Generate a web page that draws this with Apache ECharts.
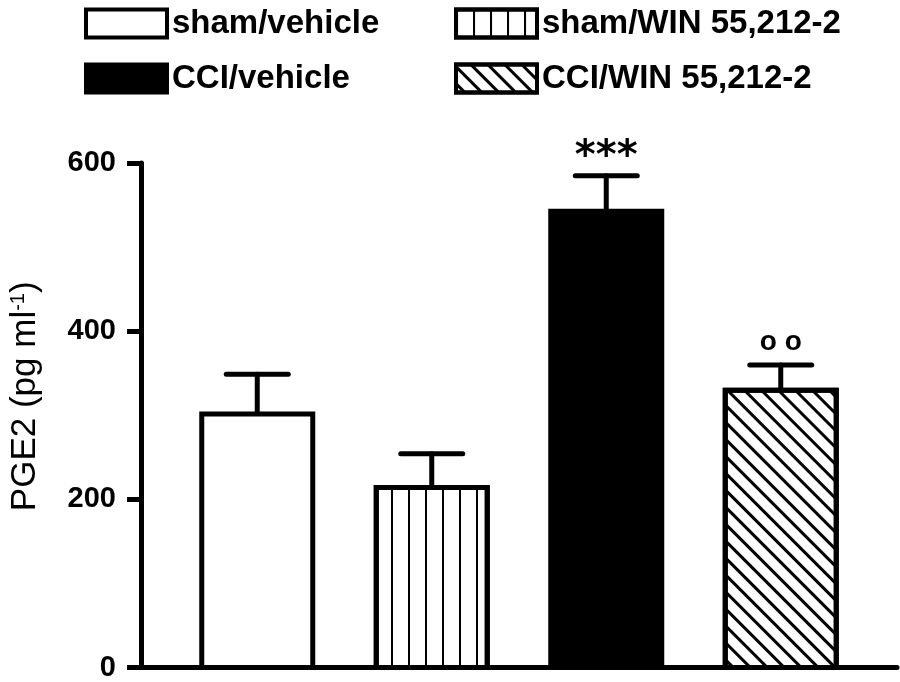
<!DOCTYPE html>
<html>
<head>
<meta charset="utf-8">
<script src="https://cdn.jsdelivr.net/npm/echarts@6/dist/echarts.min.js"></script>
<style>
  html, body { margin: 0; padding: 0; background: #fff; }
  #chart { width: 900px; height: 682px; }
</style>
</head>
<body>
<div id="chart"></div>
<script>
// groups, left to right
const categories = ['sham/vehicle', 'sham/WIN 55,212-2', 'CCI/vehicle', 'CCI/WIN 55,212-2']
// PGE2 mean and mean + SEM (pg/ml)
const means = [306, 219, 546, 334]
const upper = [350, 256, 585, 361]
// significance marks above the error bars
const marks = ['', '', '***', 'o o']
const yTicks = { min: 0, max: 600, interval: 200 }

const font = 'Liberation Sans, Arial, Helvetica, sans-serif'

const hatchVertical = {
  symbol: 'rect',
  symbolSize: 1,
  color: '#000',
  dashArrayX: [2, 14.5],
  dashArrayY: [4, 0],
  rotation: 0
}
const hatchDiagonal = {
  symbol: 'rect',
  symbolSize: 1,
  color: '#000',
  dashArrayX: [4, 0],
  dashArrayY: [2.5, 9],
  rotation: Math.PI / 4
}

const barStyles = [
  { color: '#fff', borderColor: '#000', borderWidth: 5 },
  { color: '#fff', borderColor: '#000', borderWidth: 5, decal: hatchVertical },
  { color: '#000', borderColor: '#000', borderWidth: 5 },
  { color: '#fff', borderColor: '#000', borderWidth: 5, decal: hatchDiagonal }
]

function renderError(params, api) {
  const base = api.coord([api.value(0), api.value(1)])
  const top = api.coord([api.value(0), api.value(2)])
  const half = 31
  const line = { stroke: '#000', lineWidth: 5, lineCap: 'round' }
  const children = [
    { type: 'line', shape: { x1: base[0], y1: base[1], x2: top[0], y2: top[1] }, style: line },
    { type: 'line', shape: { x1: top[0] - half, y1: top[1], x2: top[0] + half, y2: top[1] }, style: line }
  ]
  const mark = marks[params.dataIndex]
  if (mark) {
    const stars = mark === '***'
    children.push({
      type: 'text',
      x: top[0],
      y: top[1] + (stars ? 2 : -9),
      style: {
        text: mark,
        fill: '#000',
        font: stars ? 'bold 40px DejaVu Sans' : 'bold 28px ' + font,
        textAlign: 'center',
        textVerticalAlign: 'bottom'
      }
    })
  }
  return { type: 'group', children: children }
}

const barSeries = categories.map((name, i) => ({
  name: name,
  type: 'bar',
  xAxisIndex: 1,
  yAxisIndex: 1,
  barWidth: 116,
  barGap: '-100%',
  itemStyle: barStyles[i],
  data: categories.map((c, j) => (j === i ? means[i] : '-'))
}))

const legendCommon = {
  orient: 'vertical',
  top: 7,
  padding: 0,
  itemWidth: 81,
  itemHeight: 28,
  itemGap: 22,
  icon: 'rect',
  selectedMode: false,
  itemStyle: { borderColor: '#000', borderWidth: 4 },
  textStyle: { fontFamily: font, fontSize: 33, fontWeight: 'bold', color: '#000' }
}

const options = {
  animation: false,
  backgroundColor: '#fff',
  legend: [
    Object.assign({ left: 84, data: [categories[0], categories[2]] }, legendCommon),
    Object.assign({ left: 454, data: [categories[1], categories[3]] }, legendCommon)
  ],
  grid: [
    { left: 140, right: 3, top: 163, bottom: 12 },
    { left: 170, right: 32, top: 163, bottom: 12 }
  ],
  xAxis: [
    {
      gridIndex: 0,
      type: 'value',
      min: 0,
      max: 1,
      axisLine: { show: true, lineStyle: { color: '#000', width: 5 } },
      axisTick: { show: false },
      axisLabel: { show: false },
      splitLine: { show: false }
    },
    {
      gridIndex: 1,
      type: 'category',
      data: categories,
      show: false
    }
  ],
  yAxis: [
    {
      gridIndex: 0,
      type: 'value',
      min: yTicks.min,
      max: yTicks.max,
      interval: yTicks.interval,
      name: '{a|PGE2 (pg ml}{s|-1}{a|)}',
      nameLocation: 'middle',
      nameGap: 98,
      nameTextStyle: {
        padding: [0, 0, 0, 38],
        rich: {
          a: { fontFamily: font, fontSize: 35, color: '#000' },
          s: { fontFamily: font, fontSize: 20, color: '#000', verticalAlign: 'top' }
        }
      },
      axisLine: { show: true, lineStyle: { color: '#000', width: 5 } },
      axisTick: { show: true, length: 14, lineStyle: { color: '#000', width: 5 } },
      axisLabel: { margin: 25, fontFamily: font, fontSize: 29, fontWeight: 'bold', color: '#000' },
      splitLine: { show: false }
    },
    {
      gridIndex: 1,
      type: 'value',
      min: yTicks.min,
      max: yTicks.max,
      show: false,
      splitLine: { show: false }
    }
  ],
  series: barSeries.concat([
    {
      type: 'custom',
      xAxisIndex: 1,
      yAxisIndex: 1,
      renderItem: renderError,
      z: 1,
      data: categories.map((c, i) => [i, means[i], upper[i]])
    }
  ])
}

const chart = echarts.init(document.getElementById('chart'))
chart.setOption(options)
</script>
</body>
</html>
